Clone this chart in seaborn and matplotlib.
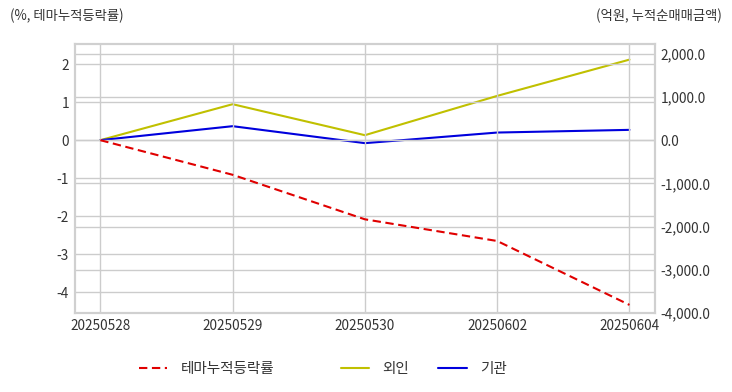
import matplotlib
matplotlib.use("Agg")
import matplotlib.pyplot as plt
import seaborn as sns
import pandas as pd
from matplotlib.lines import Line2D
from matplotlib.ticker import FuncFormatter

dates = ["20250528", "20250529", "20250530", "20250602", "20250604"]
theme_return = [0.0, -0.91, -2.08, -2.65, -4.33]
foreign = [0.0, 831.0, 115.0, 1023.0, 1861.0]
institution = [0.0, 323.0, -69.0, 176.0, 238.0]

left_ticks = [2, 1, 0, -1, -2, -3, -4]
right_ticks = [2000, 1000, 0, -1000, -2000, -3000, -4000]

sns.set_theme(style="whitegrid")
plt.rcParams["font.family"] = ["Noto Sans CJK KR", "DejaVu Sans"]

df = pd.DataFrame({"pos": range(len(dates)), "date": dates,
                   "theme": theme_return, "foreign": foreign, "inst": institution})

fig = plt.figure(figsize=(7.32, 3.92), dpi=100)
ax = fig.add_axes([0.102, 0.2008, 0.793, 0.6872])
ax2 = ax.twinx()

grid_c = "#cccccc"
text_c = "#333333"
dash = (0, (4, 2.2))

sns.lineplot(data=df, x="pos", y="theme", ax=ax, color="#e00000", linewidth=1.5,
             linestyle=dash, zorder=5)
sns.lineplot(data=df, x="pos", y="foreign", ax=ax2, color="#c0c000", linewidth=1.5)
sns.lineplot(data=df, x="pos", y="inst", ax=ax2, color="#0000dd", linewidth=1.5)

ax.set_xlim(-0.194, len(dates) - 1 + 0.194)
ax.set_ylim(-4.55, 2.53)
ax2.set_ylim(-4000, 2224)
ax.set_xticks(range(len(dates)))
ax.set_xticklabels(dates)
ax.set_yticks(left_ticks)
ax.set_yticklabels([str(v) for v in left_ticks])
ax2.set_yticks(right_ticks)
ax2.yaxis.set_major_formatter(FuncFormatter(lambda v, p: f"{v:,.1f}"))

for a in (ax, ax2):
    a.set_xlabel("")
    a.set_ylabel("")
    a.tick_params(axis="both", length=0, labelsize=9.8, colors=text_c, pad=4)
    for s in a.spines.values():
        s.set_color("#d0d0d0")
        s.set_linewidth(1.5)

ax.grid(True, color=grid_c, linewidth=1)
ax2.grid(True, axis="y", color=grid_c, linewidth=1)
ax2.grid(False, axis="x")
ax.set_zorder(ax2.get_zorder() + 1)
ax.patch.set_visible(False)
ax2.set_axisbelow(True)
ax.set_axisbelow(True)

fig.text(10 / 732, 1 - 16 / 392, "(%, 테마누적등락률)", fontsize=9.6, color=text_c,
         ha="left", va="center")
fig.text(722 / 732, 1 - 16 / 392, "(억원, 누적순매매금액)", fontsize=9.6, color=text_c,
         ha="right", va="center")

h1 = [Line2D([], [], color="#e00000", linewidth=1.5, linestyle=dash)]
h2 = [Line2D([], [], color="#c0c000", linewidth=1.5),
      Line2D([], [], color="#0000dd", linewidth=1.5)]
leg_kw = dict(frameon=False, fontsize=10.5, handlelength=1.95, handletextpad=0.9,
              labelcolor=text_c, borderpad=0, borderaxespad=0)
fig.legend(h1, ["테마누적등락률"], loc="center left",
           bbox_to_anchor=(139 / 732, 1 - 369 / 392), **leg_kw)
fig.legend(h2, ["외인", "기관"], loc="center left", ncol=2, columnspacing=2.0,
           bbox_to_anchor=(341 / 732, 1 - 369 / 392), **leg_kw)

fig.savefig("out.png", dpi=100)
